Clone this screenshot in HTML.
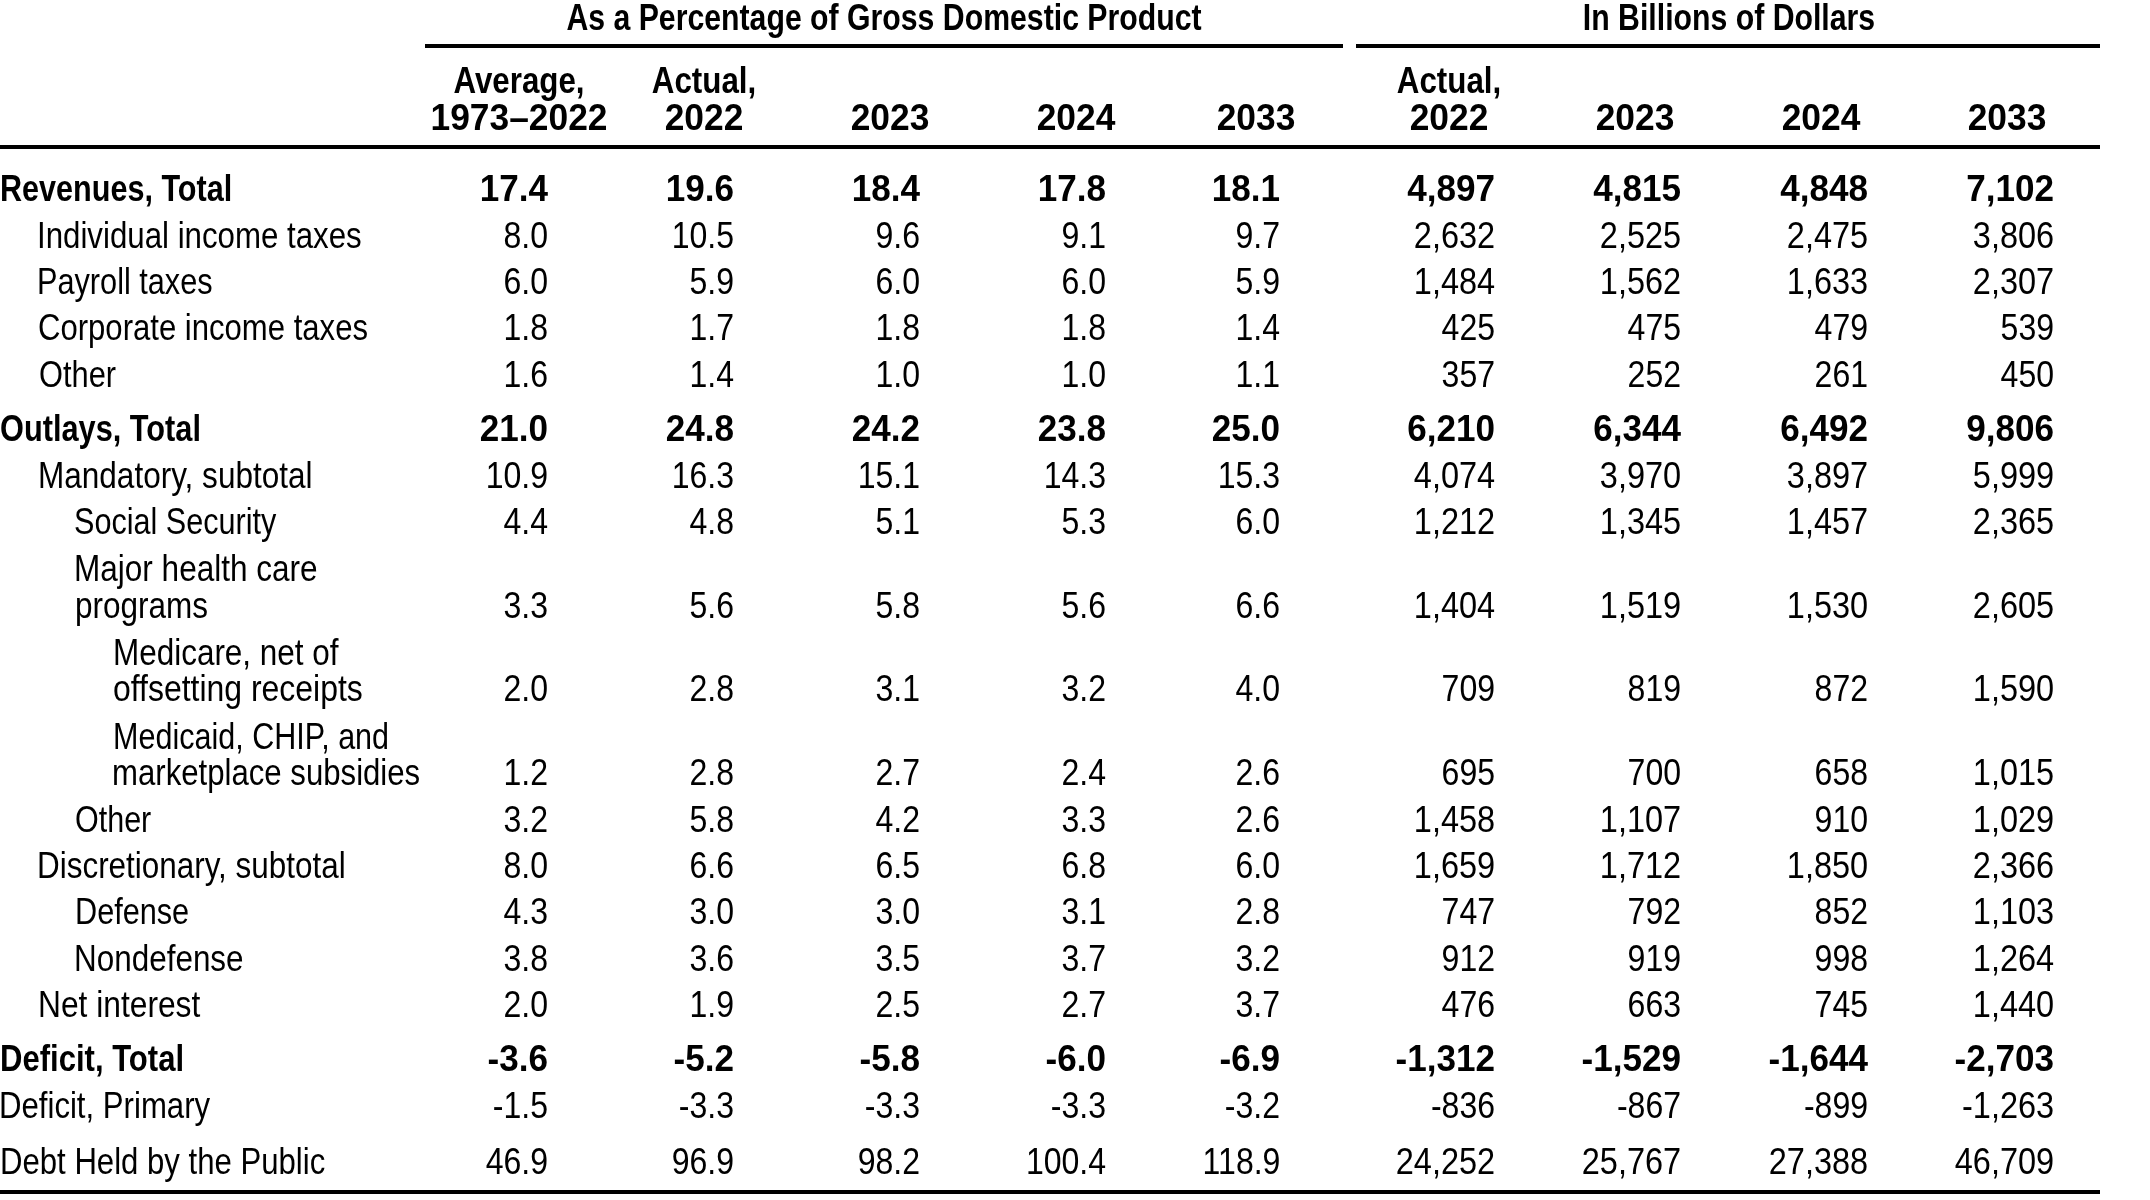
<!DOCTYPE html>
<html><head><meta charset="utf-8"><style>
html,body{margin:0;padding:0;background:#fff;}
body{filter:grayscale(1);}
body{width:2150px;height:1200px;position:relative;overflow:hidden;font-family:"Liberation Sans",sans-serif;color:#000;}
.r{position:absolute;background:#000;}
.t{position:absolute;font-size:36px;line-height:41px;height:41px;white-space:nowrap;}
.b{font-weight:bold;}
.l{transform-origin:0 0;}
.n{transform:scaleX(0.89);transform-origin:100% 0;text-align:right;}
.n.b{transform:scaleX(0.975);}
.n.w{transform:scaleX(0.902);}
.c{text-align:center;transform:scaleX(0.87);transform-origin:50% 0;}
.c.y{transform:scaleX(0.982);}
.c.s{transform:scaleX(0.84);}
</style></head><body>
<div class="r" style="left:425px;top:44px;width:918px;height:4px"></div>
<div class="r" style="left:1356px;top:44px;width:744px;height:4px"></div>
<div class="r" style="left:0px;top:144.6px;width:2100px;height:4.4px"></div>
<div class="r" style="left:0px;top:1190px;width:2100px;height:4px"></div>
<div class="t b c s" style="left:483.70000000000005px;top:-3px;width:800px">As a Percentage of Gross Domestic Product</div>
<div class="t b c s" style="left:1328.7px;top:-3px;width:800px">In Billions of Dollars</div>
<div class="t b c" style="left:368.5px;top:60px;width:300px">Average,</div>
<div class="t b c y" style="left:368.5px;top:97px;width:300px">1973–2022</div>
<div class="t b c" style="left:553.8px;top:60px;width:300px">Actual,</div>
<div class="t b c y" style="left:553.8px;top:97px;width:300px">2022</div>
<div class="t b c y" style="left:739.5px;top:97px;width:300px">2023</div>
<div class="t b c y" style="left:925.5px;top:97px;width:300px">2024</div>
<div class="t b c y" style="left:1106px;top:97px;width:300px">2033</div>
<div class="t b c" style="left:1298.6px;top:60px;width:300px">Actual,</div>
<div class="t b c y" style="left:1298.6px;top:97px;width:300px">2022</div>
<div class="t b c y" style="left:1485px;top:97px;width:300px">2023</div>
<div class="t b c y" style="left:1671px;top:97px;width:300px">2024</div>
<div class="t b c y" style="left:1857px;top:97px;width:300px">2033</div>
<div class="t l b" style="left:0.21px;top:168px;transform:scaleX(0.8493)">Revenues, Total</div>
<div class="t l" style="left:36.79px;top:215px;transform:scaleX(0.8677)">Individual income taxes</div>
<div class="t l" style="left:37.25px;top:261px;transform:scaleX(0.8521)">Payroll taxes</div>
<div class="t l" style="left:37.60px;top:307px;transform:scaleX(0.8634)">Corporate income taxes</div>
<div class="t l" style="left:38.61px;top:354px;transform:scaleX(0.8559)">Other</div>
<div class="t l b" style="left:-0.20px;top:408px;transform:scaleX(0.8539)">Outlays, Total</div>
<div class="t l" style="left:37.57px;top:455px;transform:scaleX(0.8757)">Mandatory, subtotal</div>
<div class="t l" style="left:74.05px;top:501px;transform:scaleX(0.8493)">Social Security</div>
<div class="t l" style="left:73.96px;top:547.5px;transform:scaleX(0.8760)">Major health care</div>
<div class="t l" style="left:74.98px;top:585px;transform:scaleX(0.8751)">programs</div>
<div class="t l" style="left:112.57px;top:631.5px;transform:scaleX(0.8736)">Medicare, net of</div>
<div class="t l" style="left:112.77px;top:668px;transform:scaleX(0.8875)">offsetting receipts</div>
<div class="t l" style="left:113.26px;top:715.5px;transform:scaleX(0.8481)">Medicaid, CHIP, and</div>
<div class="t l" style="left:112.40px;top:752px;transform:scaleX(0.8653)">marketplace subsidies</div>
<div class="t l" style="left:75.03px;top:799px;transform:scaleX(0.8468)">Other</div>
<div class="t l" style="left:36.97px;top:845px;transform:scaleX(0.8733)">Discretionary, subtotal</div>
<div class="t l" style="left:75.45px;top:891px;transform:scaleX(0.8511)">Defense</div>
<div class="t l" style="left:73.97px;top:938px;transform:scaleX(0.8734)">Nondefense</div>
<div class="t l" style="left:37.55px;top:984px;transform:scaleX(0.8816)">Net interest</div>
<div class="t l b" style="left:0.18px;top:1038px;transform:scaleX(0.8626)">Deficit, Total</div>
<div class="t l" style="left:-0.60px;top:1085px;transform:scaleX(0.8650)">Deficit, Primary</div>
<div class="t l" style="left:-0.40px;top:1140.5px;transform:scaleX(0.8645)">Debt Held by the Public</div>
<div class="t n b" style="right:1602px;top:168px">17.4</div>
<div class="t n b" style="right:1415.5px;top:168px">19.6</div>
<div class="t n b" style="right:1230px;top:168px">18.4</div>
<div class="t n b" style="right:1044px;top:168px">17.8</div>
<div class="t n b" style="right:870px;top:168px">18.1</div>
<div class="t n b" style="right:655px;top:168px">4,897</div>
<div class="t n b" style="right:469px;top:168px">4,815</div>
<div class="t n b" style="right:282px;top:168px">4,848</div>
<div class="t n b" style="right:96px;top:168px">7,102</div>
<div class="t n" style="right:1602px;top:215px">8.0</div>
<div class="t n" style="right:1415.5px;top:215px">10.5</div>
<div class="t n" style="right:1230px;top:215px">9.6</div>
<div class="t n" style="right:1044px;top:215px">9.1</div>
<div class="t n" style="right:870px;top:215px">9.7</div>
<div class="t n w" style="right:655px;top:215px">2,632</div>
<div class="t n w" style="right:469px;top:215px">2,525</div>
<div class="t n w" style="right:282px;top:215px">2,475</div>
<div class="t n w" style="right:96px;top:215px">3,806</div>
<div class="t n" style="right:1602px;top:261px">6.0</div>
<div class="t n" style="right:1415.5px;top:261px">5.9</div>
<div class="t n" style="right:1230px;top:261px">6.0</div>
<div class="t n" style="right:1044px;top:261px">6.0</div>
<div class="t n" style="right:870px;top:261px">5.9</div>
<div class="t n w" style="right:655px;top:261px">1,484</div>
<div class="t n w" style="right:469px;top:261px">1,562</div>
<div class="t n w" style="right:282px;top:261px">1,633</div>
<div class="t n w" style="right:96px;top:261px">2,307</div>
<div class="t n" style="right:1602px;top:307px">1.8</div>
<div class="t n" style="right:1415.5px;top:307px">1.7</div>
<div class="t n" style="right:1230px;top:307px">1.8</div>
<div class="t n" style="right:1044px;top:307px">1.8</div>
<div class="t n" style="right:870px;top:307px">1.4</div>
<div class="t n" style="right:655px;top:307px">425</div>
<div class="t n" style="right:469px;top:307px">475</div>
<div class="t n" style="right:282px;top:307px">479</div>
<div class="t n" style="right:96px;top:307px">539</div>
<div class="t n" style="right:1602px;top:354px">1.6</div>
<div class="t n" style="right:1415.5px;top:354px">1.4</div>
<div class="t n" style="right:1230px;top:354px">1.0</div>
<div class="t n" style="right:1044px;top:354px">1.0</div>
<div class="t n" style="right:870px;top:354px">1.1</div>
<div class="t n" style="right:655px;top:354px">357</div>
<div class="t n" style="right:469px;top:354px">252</div>
<div class="t n" style="right:282px;top:354px">261</div>
<div class="t n" style="right:96px;top:354px">450</div>
<div class="t n b" style="right:1602px;top:408px">21.0</div>
<div class="t n b" style="right:1415.5px;top:408px">24.8</div>
<div class="t n b" style="right:1230px;top:408px">24.2</div>
<div class="t n b" style="right:1044px;top:408px">23.8</div>
<div class="t n b" style="right:870px;top:408px">25.0</div>
<div class="t n b" style="right:655px;top:408px">6,210</div>
<div class="t n b" style="right:469px;top:408px">6,344</div>
<div class="t n b" style="right:282px;top:408px">6,492</div>
<div class="t n b" style="right:96px;top:408px">9,806</div>
<div class="t n" style="right:1602px;top:455px">10.9</div>
<div class="t n" style="right:1415.5px;top:455px">16.3</div>
<div class="t n" style="right:1230px;top:455px">15.1</div>
<div class="t n" style="right:1044px;top:455px">14.3</div>
<div class="t n" style="right:870px;top:455px">15.3</div>
<div class="t n w" style="right:655px;top:455px">4,074</div>
<div class="t n w" style="right:469px;top:455px">3,970</div>
<div class="t n w" style="right:282px;top:455px">3,897</div>
<div class="t n w" style="right:96px;top:455px">5,999</div>
<div class="t n" style="right:1602px;top:501px">4.4</div>
<div class="t n" style="right:1415.5px;top:501px">4.8</div>
<div class="t n" style="right:1230px;top:501px">5.1</div>
<div class="t n" style="right:1044px;top:501px">5.3</div>
<div class="t n" style="right:870px;top:501px">6.0</div>
<div class="t n w" style="right:655px;top:501px">1,212</div>
<div class="t n w" style="right:469px;top:501px">1,345</div>
<div class="t n w" style="right:282px;top:501px">1,457</div>
<div class="t n w" style="right:96px;top:501px">2,365</div>
<div class="t n" style="right:1602px;top:585px">3.3</div>
<div class="t n" style="right:1415.5px;top:585px">5.6</div>
<div class="t n" style="right:1230px;top:585px">5.8</div>
<div class="t n" style="right:1044px;top:585px">5.6</div>
<div class="t n" style="right:870px;top:585px">6.6</div>
<div class="t n w" style="right:655px;top:585px">1,404</div>
<div class="t n w" style="right:469px;top:585px">1,519</div>
<div class="t n w" style="right:282px;top:585px">1,530</div>
<div class="t n w" style="right:96px;top:585px">2,605</div>
<div class="t n" style="right:1602px;top:668px">2.0</div>
<div class="t n" style="right:1415.5px;top:668px">2.8</div>
<div class="t n" style="right:1230px;top:668px">3.1</div>
<div class="t n" style="right:1044px;top:668px">3.2</div>
<div class="t n" style="right:870px;top:668px">4.0</div>
<div class="t n" style="right:655px;top:668px">709</div>
<div class="t n" style="right:469px;top:668px">819</div>
<div class="t n" style="right:282px;top:668px">872</div>
<div class="t n w" style="right:96px;top:668px">1,590</div>
<div class="t n" style="right:1602px;top:752px">1.2</div>
<div class="t n" style="right:1415.5px;top:752px">2.8</div>
<div class="t n" style="right:1230px;top:752px">2.7</div>
<div class="t n" style="right:1044px;top:752px">2.4</div>
<div class="t n" style="right:870px;top:752px">2.6</div>
<div class="t n" style="right:655px;top:752px">695</div>
<div class="t n" style="right:469px;top:752px">700</div>
<div class="t n" style="right:282px;top:752px">658</div>
<div class="t n w" style="right:96px;top:752px">1,015</div>
<div class="t n" style="right:1602px;top:799px">3.2</div>
<div class="t n" style="right:1415.5px;top:799px">5.8</div>
<div class="t n" style="right:1230px;top:799px">4.2</div>
<div class="t n" style="right:1044px;top:799px">3.3</div>
<div class="t n" style="right:870px;top:799px">2.6</div>
<div class="t n w" style="right:655px;top:799px">1,458</div>
<div class="t n w" style="right:469px;top:799px">1,107</div>
<div class="t n" style="right:282px;top:799px">910</div>
<div class="t n w" style="right:96px;top:799px">1,029</div>
<div class="t n" style="right:1602px;top:845px">8.0</div>
<div class="t n" style="right:1415.5px;top:845px">6.6</div>
<div class="t n" style="right:1230px;top:845px">6.5</div>
<div class="t n" style="right:1044px;top:845px">6.8</div>
<div class="t n" style="right:870px;top:845px">6.0</div>
<div class="t n w" style="right:655px;top:845px">1,659</div>
<div class="t n w" style="right:469px;top:845px">1,712</div>
<div class="t n w" style="right:282px;top:845px">1,850</div>
<div class="t n w" style="right:96px;top:845px">2,366</div>
<div class="t n" style="right:1602px;top:891px">4.3</div>
<div class="t n" style="right:1415.5px;top:891px">3.0</div>
<div class="t n" style="right:1230px;top:891px">3.0</div>
<div class="t n" style="right:1044px;top:891px">3.1</div>
<div class="t n" style="right:870px;top:891px">2.8</div>
<div class="t n" style="right:655px;top:891px">747</div>
<div class="t n" style="right:469px;top:891px">792</div>
<div class="t n" style="right:282px;top:891px">852</div>
<div class="t n w" style="right:96px;top:891px">1,103</div>
<div class="t n" style="right:1602px;top:938px">3.8</div>
<div class="t n" style="right:1415.5px;top:938px">3.6</div>
<div class="t n" style="right:1230px;top:938px">3.5</div>
<div class="t n" style="right:1044px;top:938px">3.7</div>
<div class="t n" style="right:870px;top:938px">3.2</div>
<div class="t n" style="right:655px;top:938px">912</div>
<div class="t n" style="right:469px;top:938px">919</div>
<div class="t n" style="right:282px;top:938px">998</div>
<div class="t n w" style="right:96px;top:938px">1,264</div>
<div class="t n" style="right:1602px;top:984px">2.0</div>
<div class="t n" style="right:1415.5px;top:984px">1.9</div>
<div class="t n" style="right:1230px;top:984px">2.5</div>
<div class="t n" style="right:1044px;top:984px">2.7</div>
<div class="t n" style="right:870px;top:984px">3.7</div>
<div class="t n" style="right:655px;top:984px">476</div>
<div class="t n" style="right:469px;top:984px">663</div>
<div class="t n" style="right:282px;top:984px">745</div>
<div class="t n w" style="right:96px;top:984px">1,440</div>
<div class="t n b" style="right:1602px;top:1038px">-3.6</div>
<div class="t n b" style="right:1415.5px;top:1038px">-5.2</div>
<div class="t n b" style="right:1230px;top:1038px">-5.8</div>
<div class="t n b" style="right:1044px;top:1038px">-6.0</div>
<div class="t n b" style="right:870px;top:1038px">-6.9</div>
<div class="t n b" style="right:655px;top:1038px">-1,312</div>
<div class="t n b" style="right:469px;top:1038px">-1,529</div>
<div class="t n b" style="right:282px;top:1038px">-1,644</div>
<div class="t n b" style="right:96px;top:1038px">-2,703</div>
<div class="t n" style="right:1602px;top:1085px">-1.5</div>
<div class="t n" style="right:1415.5px;top:1085px">-3.3</div>
<div class="t n" style="right:1230px;top:1085px">-3.3</div>
<div class="t n" style="right:1044px;top:1085px">-3.3</div>
<div class="t n" style="right:870px;top:1085px">-3.2</div>
<div class="t n" style="right:655px;top:1085px">-836</div>
<div class="t n" style="right:469px;top:1085px">-867</div>
<div class="t n" style="right:282px;top:1085px">-899</div>
<div class="t n w" style="right:96px;top:1085px">-1,263</div>
<div class="t n" style="right:1602px;top:1140.5px">46.9</div>
<div class="t n" style="right:1415.5px;top:1140.5px">96.9</div>
<div class="t n" style="right:1230px;top:1140.5px">98.2</div>
<div class="t n" style="right:1044px;top:1140.5px">100.4</div>
<div class="t n" style="right:870px;top:1140.5px">118.9</div>
<div class="t n w" style="right:655px;top:1140.5px">24,252</div>
<div class="t n w" style="right:469px;top:1140.5px">25,767</div>
<div class="t n w" style="right:282px;top:1140.5px">27,388</div>
<div class="t n w" style="right:96px;top:1140.5px">46,709</div>
</body></html>
